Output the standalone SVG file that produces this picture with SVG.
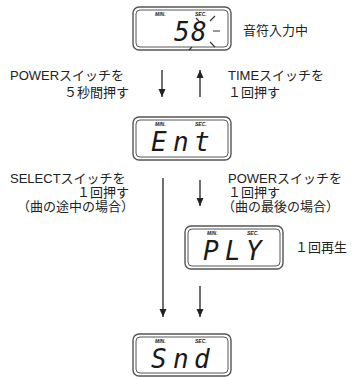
<svg xmlns="http://www.w3.org/2000/svg" width="357" height="377" viewBox="0 0 357 377">
<defs>
<style>
.lbl{font-family:"Liberation Sans","Noto Sans CJK JP",sans-serif;font-size:13px;fill:#222}
.end{text-anchor:end}
.outer{fill:#fff;stroke:#555;stroke-width:1.4}
.inner{fill:none;stroke:#444;stroke-width:0.9}
.tiny{font-family:"Liberation Sans",sans-serif;font-size:5px;font-style:italic;font-weight:bold;fill:#222}
.lcd{font-family:"DejaVu Sans Mono",monospace;font-size:26px;font-style:oblique;fill:#1a1a1a}
.ray{stroke:#333;stroke-width:1.2;fill:none}
.con{stroke:#222;stroke-width:1.3;fill:none}
</style>
<marker id="ah" viewBox="0 0 8 9" refX="8" refY="4.5" markerWidth="8" markerHeight="9" markerUnits="userSpaceOnUse" orient="auto">
<path d="M0,1 L8,4.5 L0,8 Z" fill="#222"/>
</marker>
</defs>

<g id="d1" transform="translate(133,7)">
<rect class="outer" x="0" y="0" width="98" height="43" rx="6"/>
<rect class="inner" x="3" y="3" width="92" height="37" rx="4"/>
<text class="tiny" x="22" y="9">MIN.</text>
<text class="tiny" x="62" y="9">SEC.</text>
<text class="lcd" x="41 58" y="34">58</text>
<path class="ray" d="M63,11 L66,14 M77,14 L82,9 M80,24 L87,24 M77,35 L82,40 M59,40 L56,43"/>
</g>
<text id="t1" class="lbl" x="243" y="35">音符入力中</text>

<g id="d2" transform="translate(133,117)">
<rect class="outer" x="0" y="0" width="98" height="43" rx="6"/>
<rect class="inner" x="3" y="3" width="92" height="37" rx="4"/>
<text class="tiny" x="22" y="9">MIN.</text>
<text class="tiny" x="62" y="9">SEC.</text>
<text class="lcd" x="18 40 61" y="34">Ent</text>
</g>

<g id="d3" transform="translate(185,226)">
<rect class="outer" x="0" y="0" width="98" height="43" rx="6"/>
<rect class="inner" x="3" y="3" width="92" height="37" rx="4"/>
<text class="tiny" x="22" y="9">MIN.</text>
<text class="tiny" x="62" y="9">SEC.</text>
<text class="lcd" x="18 40 61" y="34">PLY</text>
</g>
<text id="t3" class="lbl" x="295" y="252">１回再生</text>

<g id="d4" transform="translate(133,334)">
<rect class="outer" x="0" y="0" width="98" height="42" rx="6"/>
<rect class="inner" x="3" y="3" width="92" height="36" rx="4"/>
<text class="tiny" x="22" y="9">MIN.</text>
<text class="tiny" x="62" y="9">SEC.</text>
<text class="lcd" x="18 40 61" y="34">Snd</text>
</g>

<g id="labels">
<text class="lbl" x="10" y="80">POWERスイッチを</text>
<text class="lbl end" x="129" y="97">５秒間押す</text>
<text class="lbl" x="228" y="80">TIMEスイッチを</text>
<text class="lbl" x="228" y="97">１回押す</text>
<text class="lbl" x="10" y="183">SELECTスイッチを</text>
<text class="lbl end" x="129" y="197">１回押す</text>
<text class="lbl end" x="134" y="211">（曲の途中の場合）</text>
<text class="lbl" x="228" y="183">POWERスイッチを</text>
<text class="lbl" x="228" y="197">１回押す</text>
<text class="lbl" x="222" y="211">（曲の最後の場合）</text>
</g>

<g id="connectors">
<line class="con" x1="162" y1="70" x2="162" y2="97" marker-end="url(#ah)"/>
<line class="con" x1="200" y1="97" x2="200" y2="70" marker-end="url(#ah)"/>
<line class="con" x1="163" y1="178" x2="163" y2="317" marker-end="url(#ah)"/>
<line class="con" x1="200" y1="180" x2="200" y2="206" marker-end="url(#ah)"/>
<line class="con" x1="200" y1="286" x2="200" y2="317" marker-end="url(#ah)"/>
</g>
</svg>
